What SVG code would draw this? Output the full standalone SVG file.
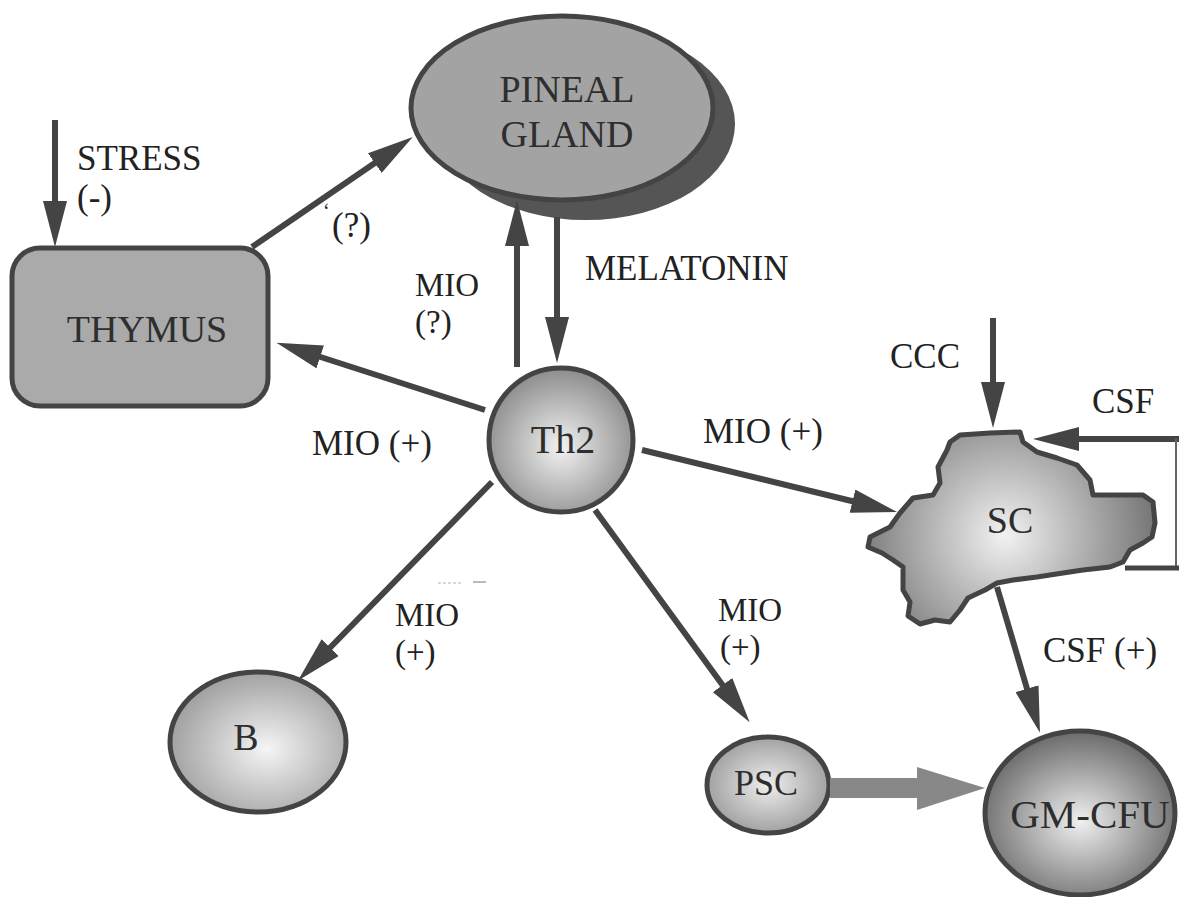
<svg xmlns="http://www.w3.org/2000/svg" width="1179" height="897" viewBox="0 0 1179 897">
<style>
.lbl{font-family:"Liberation Serif","Times New Roman",serif;font-size:35px;fill:#222}
.st{font-size:33px}
.nt{font-family:"Liberation Serif","Times New Roman",serif;fill:#2e2e2e;text-anchor:middle}
.edge{stroke:#444;stroke-width:6;fill:none;marker-end:url(#ah)}
.outl{stroke:#444;stroke-width:5}
</style>
<defs>
<marker id="ah" viewBox="0 0 46 24" refX="16" refY="12" markerWidth="46" markerHeight="24" markerUnits="userSpaceOnUse" orient="auto">
<path d="M0,0 L46,12 L0,24 z" fill="#444"/>
</marker>
<radialGradient id="gTh2" cx="0.5" cy="0.55" r="0.55">
<stop offset="0" stop-color="#f2f2f2"/><stop offset="1" stop-color="#8c8c8c"/>
</radialGradient>
<radialGradient id="gB" cx="0.55" cy="0.55" r="0.55">
<stop offset="0" stop-color="#f5f5f5"/><stop offset="1" stop-color="#a2a2a2"/>
</radialGradient>
<radialGradient id="gPSC" cx="0.5" cy="0.5" r="0.55">
<stop offset="0" stop-color="#eeeeee"/><stop offset="1" stop-color="#9a9a9a"/>
</radialGradient>
<radialGradient id="gGM" cx="0.5" cy="0.55" r="0.55">
<stop offset="0" stop-color="#f0f0f0"/><stop offset="1" stop-color="#6a6a6a"/>
</radialGradient>
<radialGradient id="gSC" gradientUnits="userSpaceOnUse" cx="1005" cy="535" r="150">
<stop offset="0" stop-color="#f2f2f2"/><stop offset="1" stop-color="#767676"/>
</radialGradient>
</defs>

<g id="pineal">
<ellipse cx="586" cy="124" rx="149" ry="96" fill="#555"/>
<ellipse cx="562" cy="108" rx="151" ry="92" fill="#a3a3a3" class="outl"/>
<text class="nt" x="567" y="102" font-size="38">PINEAL</text>
<text class="nt" x="567" y="147" font-size="38">GLAND</text>
</g>

<g id="thymus">
<rect x="12" y="248" width="256" height="158" rx="28" fill="#aaaaaa" class="outl"/>
<text class="nt" x="147" y="342" font-size="38">THYMUS</text>
</g>

<g id="th2">
<circle cx="561" cy="440" r="72" fill="url(#gTh2)" class="outl"/>
<text class="nt" x="563" y="453" font-size="40">Th2</text>
</g>

<g id="sc">
<path d="M950,442 L960,435 L990,433 L1020,432 L1023,442 L1037,452 L1057,458 L1077,465 L1090,480 L1093,495 L1143,495 L1153,502 L1155,523 L1152,537 L1143,543 L1130,550 L1123,562 L1110,567 L1083,570 L1063,573 L1037,577 L1013,580 L997,583 L985,590 L968,598 L960,610 L950,622 L935,620 L920,624 L908,616 L910,602 L903,590 L903,567 L893,560 L882,553 L868,547 L870,537 L890,527 L900,513 L913,498 L933,495 L940,483 L938,467 L947,450 Z" fill="url(#gSC)" class="outl" stroke-linejoin="round"/>
<text class="nt" x="1010" y="533" font-size="38">SC</text>
</g>

<g id="b">
<ellipse cx="258" cy="742" rx="88" ry="70" fill="url(#gB)" class="outl"/>
<text class="nt" x="246" y="750" font-size="38">B</text>
</g>

<g id="psc">
<ellipse cx="768" cy="785" rx="61" ry="48" fill="url(#gPSC)" class="outl"/>
<text class="nt" x="766" y="795" font-size="36">PSC</text>
</g>

<g id="gmcfu">
<ellipse cx="1080" cy="813" rx="95" ry="82" fill="url(#gGM)" class="outl"/>
<text class="nt" x="1090" y="828" font-size="41">GM-CFU</text>
</g>

<g id="connectors">
<line class="edge" x1="55" y1="120" x2="55" y2="217"/>
<line class="edge" x1="252" y1="247" x2="388" y2="154"/>
<line class="edge" x1="517" y1="367" x2="517" y2="230"/>
<line class="edge" x1="557" y1="217" x2="557" y2="333"/>
<line class="edge" x1="485" y1="410" x2="305" y2="352"/>
<line class="edge" x1="642" y1="450" x2="868" y2="505"/>
<line class="edge" x1="492" y1="482" x2="319" y2="659"/>
<line class="edge" x1="595" y1="510" x2="732" y2="698"/>
<line class="edge" x1="997" y1="587" x2="1031.5" y2="704"/>
<line class="edge" x1="993" y1="318" x2="993" y2="398"/>
<line class="edge" x1="1179" y1="439" x2="1063" y2="439"/>
<line x1="1176" y1="439" x2="1176" y2="568" stroke="#666" stroke-width="2"/>
<line x1="1125" y1="568" x2="1179" y2="568" stroke="#444" stroke-width="5"/>
<rect x="830" y="778" width="88" height="20" fill="#888"/>
<polygon points="917,767 985,788 917,810" fill="#888"/>
</g>

<g id="labels">
<text class="lbl"><tspan x="77" y="170">STRESS</tspan><tspan x="77" y="209">(-)</tspan></text>
<text class="lbl"><tspan x="323" y="218" font-size="20">ʻ</tspan><tspan x="332" y="237">(?)</tspan></text>
<text class="lbl st"><tspan x="415" y="296">MIO</tspan><tspan x="415" y="333">(?)</tspan></text>
<text class="lbl" x="585" y="280" font-size="31">MELATONIN</text>
<text class="lbl" x="312" y="455">MIO (+)</text>
<text class="lbl" x="703" y="443">MIO (+)</text>
<text class="lbl st"><tspan x="395" y="626">MIO</tspan><tspan x="395" y="663">(+)</tspan></text>
<text class="lbl st"><tspan x="718" y="621">MIO</tspan><tspan x="720" y="658">(+)</tspan></text>
<text class="lbl" x="890" y="368">CCC</text>
<text class="lbl" x="1092" y="413">CSF</text>
<text class="lbl" x="1043" y="662">CSF (+)</text>
</g>
<g id="marks" stroke="#ccc" stroke-width="1.5">
<line x1="438" y1="583" x2="462" y2="583" stroke-dasharray="3,2"/>
<line x1="473" y1="582" x2="486" y2="582" stroke="#bbb" stroke-width="2"/>
</g>
</svg>
